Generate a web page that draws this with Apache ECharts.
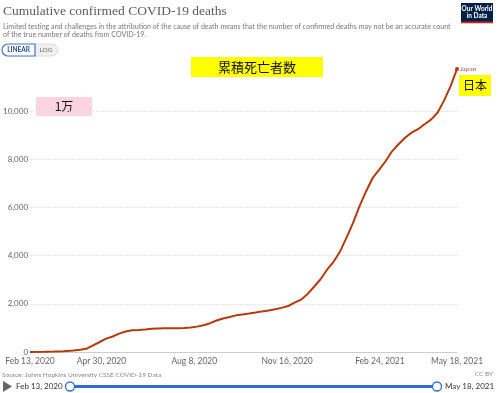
<!DOCTYPE html>
<html><head><meta charset="utf-8">
<script src="https://cdn.jsdelivr.net/npm/echarts@6/dist/echarts.min.js"></script>
<style>html,body{margin:0;padding:0;background:#fff}#c{width:500px;height:393px}</style>
</head><body><div id="c"></div>
<script>
const dates = ['2020-02-13','2020-02-29','2020-03-10','2020-03-20','2020-03-31','2020-04-07','2020-04-14','2020-04-21','2020-04-28','2020-05-05','2020-05-12','2020-05-19','2020-05-26','2020-06-02','2020-06-09','2020-06-16','2020-06-23','2020-06-30','2020-07-07','2020-07-14','2020-07-21','2020-07-28','2020-08-04','2020-08-11','2020-08-18','2020-08-25','2020-09-01','2020-09-08','2020-09-15','2020-09-22','2020-09-29','2020-10-06','2020-10-13','2020-10-20','2020-10-27','2020-11-03','2020-11-10','2020-11-17','2020-11-24','2020-12-01','2020-12-08','2020-12-15','2020-12-22','2020-12-29','2021-01-05','2021-01-12','2021-01-19','2021-01-26','2021-02-02','2021-02-09','2021-02-16','2021-02-23','2021-03-02','2021-03-09','2021-03-16','2021-03-23','2021-03-30','2021-04-06','2021-04-13','2021-04-20','2021-04-27','2021-05-04','2021-05-11','2021-05-18'];
const deaths = [1,6,16,35,66,98,136,277,415,556,643,763,851,900,917,935,963,972,981,984,985,998,1018,1053,1111,1196,1306,1392,1452,1520,1559,1597,1640,1685,1722,1773,1830,1905,2051,2172,2402,2708,3018,3414,3741,4172,4748,5359,6049,6660,7210,7553,7913,8326,8618,8890,9100,9242,9450,9643,9927,10428,11017,11741];
const xTickDates = ['2020-02-13','2020-04-30','2020-08-08','2020-11-16','2021-02-24','2021-05-18'];
const xTickLabels = ['Feb 13, 2020','Apr 30, 2020','Aug 8, 2020','Nov 16, 2020','Feb 24, 2021','May 18, 2021'];
const yTicks = [0,2000,4000,6000,8000,10000];
const seriesName = 'Japan';

function dayNum(s){const p=s.split('-').map(Number);return Math.round((Date.UTC(p[0],p[1]-1,p[2])-Date.UTC(2020,1,13))/86400000);}
const labelMap = {};
xTickDates.forEach((d,i)=>{labelMap[dayNum(d)]=xTickLabels[i];});
const seriesData = dates.map((d,i)=>[dayNum(d),deaths[i]]);
const lastIdx = seriesData.length-1;
const yMax = Math.max.apply(null,deaths);

const FONT = 'Lato';
const chart = echarts.init(document.getElementById('c'),null,{renderer:'canvas'});
chart.setOption({
  animation:false,
  grid:{left:28,right:43,top:69,bottom:41,containLabel:false},
  xAxis:{type:'value',min:dayNum(xTickDates[0]),max:dayNum(xTickDates[xTickDates.length-1]),
    axisLine:{show:true,lineStyle:{color:'#cccccc',width:1}},
    axisTick:{show:false},
    splitLine:{show:false},
    axisLabel:{customValues:xTickDates.map(dayNum),formatter:function(v){return labelMap[v]||'';},
      color:'#666',fontFamily:FONT,fontSize:8.5,margin:5,hideOverlap:false,showMinLabel:true,showMaxLabel:true}
  },
  yAxis:{type:'value',min:0,max:yMax,interval:2000,
    axisLine:{show:false},axisTick:{show:false},
    splitLine:{show:true,lineStyle:{color:['#dddddd','#dddddd','#dddddd','#dddddd','#dddddd','#dddddd','rgba(0,0,0,0)'],type:[1.5,1.5],width:1}},
    axisLabel:{color:'#666',fontFamily:FONT,fontSize:8,margin:2,showMaxLabel:false,
      formatter:function(v){return yTicks.indexOf(v)>=0?v.toLocaleString('en-US'):'';}}
  },
  series:[{type:'line',name:seriesName,data:seriesData,
    lineStyle:{color:'#b43a0c',width:2},itemStyle:{color:'#b43a0c'},
    showSymbol:true,symbol:'circle',
    symbolSize:function(v,p){return p.dataIndex===lastIdx?4:0;},
    endLabel:{show:true,formatter:seriesName,color:'#c0504d',fontFamily:FONT,fontSize:6.5,offset:[1,0],distance:2},
    emphasis:{disabled:true}
  }],
  graphic:[
    {type:'text',left:3,top:4,style:{text:'Cumulative confirmed COVID-19 deaths',fill:'#5c5c5c',font:'13.5px "Liberation Serif"'}},
    {type:'text',left:3,top:23,style:{text:'Limited testing and challenges in the attribution of the cause of death means that the number of confirmed deaths may not be an accurate count',fill:'#777',font:'7.1px Lato'}},
    {type:'text',left:3,top:31.5,style:{text:'of the true number of deaths from COVID-19.',fill:'#777',font:'7.1px Lato'}},
    {type:'rect',shape:{x:34,y:44,width:24,height:12,r:[0,6,6,0]},style:{fill:'#f0f0f0',stroke:'#dddddd',lineWidth:1}},
    {type:'rect',shape:{x:2,y:44,width:33,height:12,r:[6,0,0,6]},style:{fill:'#fff',stroke:'#3f74c9',lineWidth:1.2}},
    {type:'text',x:18.5,y:50,style:{text:'LINEAR',fill:'#2a4f8c',font:'bold 6.5px Lato',align:'center',verticalAlign:'middle'}},
    {type:'text',x:46,y:50,style:{text:'LOG',fill:'#666',font:'6.5px Lato',align:'center',verticalAlign:'middle'}},
    {type:'rect',shape:{x:461,y:3,width:32,height:20},style:{fill:'#002147'}},
    {type:'rect',shape:{x:461,y:21.5,width:32,height:1.8},style:{fill:'#ce261e'}},
    {type:'text',x:477,y:9,style:{text:'Our World',fill:'#fff',font:'bold 6.5px Lato',align:'center',verticalAlign:'middle'}},
    {type:'text',x:477,y:16,style:{text:'in Data',fill:'#fff',font:'bold 6.5px Lato',align:'center',verticalAlign:'middle'}},
    {type:'rect',shape:{x:191,y:57,width:132,height:20},style:{fill:'#ffff00'}},
    {type:'text',x:257,y:67,style:{text:'累積死亡者数',fill:'#111',font:'13px "Noto Sans CJK JP"',align:'center',verticalAlign:'middle'}},
    {type:'rect',shape:{x:36,y:97,width:56,height:19},style:{fill:'#fcd3e1'}},
    {type:'text',x:64,y:106.5,style:{text:'1万',fill:'#111',font:'12px "Noto Sans CJK JP"',align:'center',verticalAlign:'middle'}},
    {type:'rect',shape:{x:459,y:75,width:32,height:21},style:{fill:'#ffff00'}},
    {type:'text',x:475,y:85.5,style:{text:'日本',fill:'#111',font:'12px "Noto Sans CJK JP"',align:'center',verticalAlign:'middle'}},
    {type:'text',x:2,y:375,style:{text:'Source: Johns Hopkins University CSSE COVID-19 Data',fill:'#888',font:'6.5px Lato',verticalAlign:'middle'}},
    {type:'text',x:493,y:374,style:{text:'CC BY',fill:'#888',font:'6.5px Lato',align:'right',verticalAlign:'middle'}},
    {type:'polygon',shape:{points:[[3,381],[3,392],[12,386.5]]},style:{fill:'#666'}},
    {type:'text',x:16,y:386.5,style:{text:'Feb 13, 2020',fill:'#333',font:'8px Lato',verticalAlign:'middle'}},
    {type:'line',shape:{x1:70,y1:386.5,x2:437,y2:386.5},style:{stroke:'#2f6fd1',lineWidth:3}},
    {type:'circle',shape:{cx:70,cy:386.5,r:4.5},style:{fill:'#fff',stroke:'#2f6fd1',lineWidth:1.3}},
    {type:'circle',shape:{cx:437,cy:386.5,r:4.5},style:{fill:'#fff',stroke:'#2f6fd1',lineWidth:1.3}},
    {type:'text',x:445,y:386.5,style:{text:'May 18, 2021',fill:'#333',font:'8px Lato',verticalAlign:'middle'}}
  ]
});
</script></body></html>
